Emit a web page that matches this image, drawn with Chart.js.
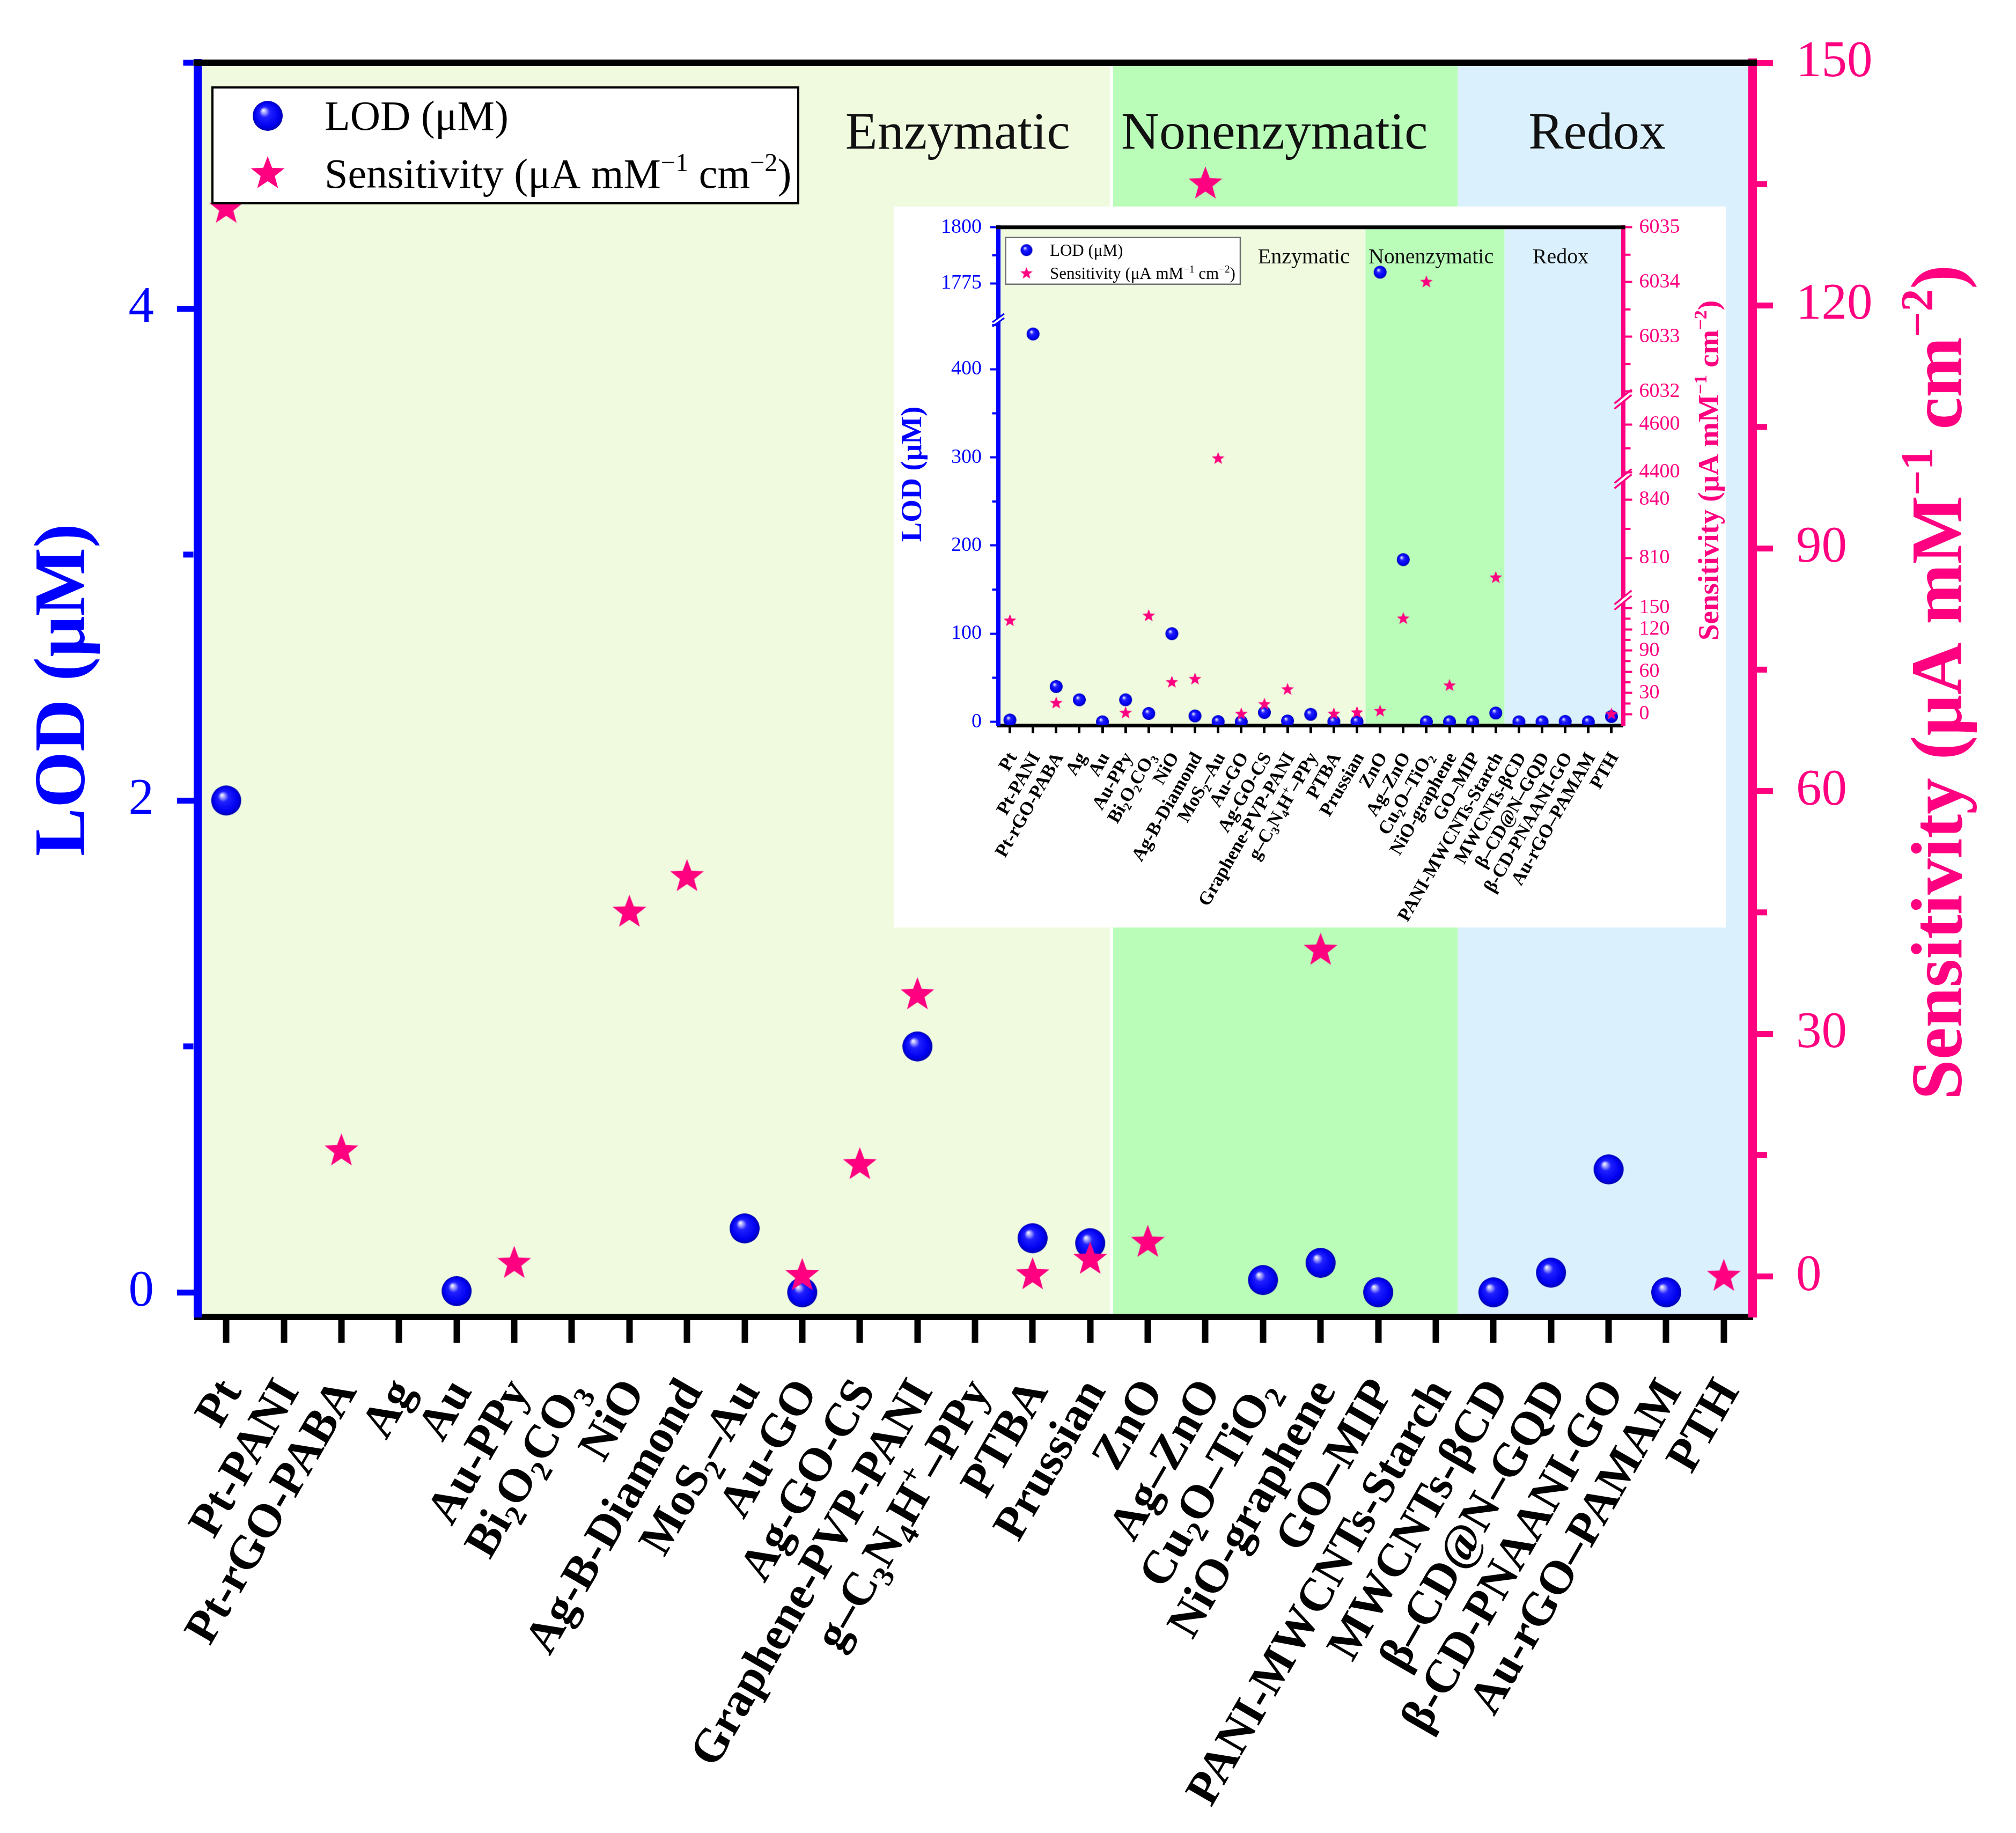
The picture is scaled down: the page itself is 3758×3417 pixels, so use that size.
<!DOCTYPE html>
<html>
<head>
<meta charset="utf-8">
<script src="https://cdn.jsdelivr.net/npm/chart.js@4.4.1/dist/chart.umd.min.js"></script>
<style>
  html, body { margin: 0; padding: 0; background: #fff; overflow: hidden; }
  #wrap { position: relative; width: 3758px; height: 3417px; }
  #main { position: absolute; left: 0; top: 0; }
  #inset { position: absolute; left: 1666px; top: 385px; }
</style>
</head>
<body>
<div id="wrap">
  <canvas id="main" width="3758" height="3417"></canvas>
  <canvas id="inset" width="1551" height="1344"></canvas>
</div>
<script>
// ---- data ----
// _{..} = subscript, ^{..} = superscript
const materials = ['Pt', 'Pt-PANI', 'Pt-rGO-PABA', 'Ag', 'Au', 'Au-PPy', 'Bi_{2}O_{2}CO_{3}', 'NiO',
  'Ag-B-Diamond', 'MoS_{2}–Au', 'Au-GO', 'Ag-GO-CS', 'Graphene-PVP-PANI', 'g–C_{3}N_{4}H^{+}–PPy',
  'PTBA', 'Prussian', 'ZnO', 'Ag–ZnO', 'Cu_{2}O–TiO_{2}', 'NiO-graphene', 'GO–MIP',
  'PANI-MWCNTs-Starch', 'MWCNTs-βCD', 'β–CD@N–GQD', 'β-CD-PNAANI-GO', 'Au-rGO–PAMAM', 'PTH'];
const lodValues = [2.0, 440, 40, 25, 0.005, 25, 9.5, 100, 6.7, 0.26, 0, 10.6, 1.0, 8.5,
  0.22, 0.2, 1780, 184, 0.05, 0.12, 0, 10, 0, 0.08, 0.5, 0, 6];
const sensValues = [132, null, 15.5, null, null, 1.6, 139, 45, 49.4, 4457, 0.1, 13.8, 34.8, null,
  0.2, 2.1, 4.2, 135, 6034, 40.3, null, 800, null, null, null, null, 0];
const seriesNames = ['LOD (μM)', 'Sensitivity (μA mM^{−1} cm^{−2})'];

const regionNames = ['Enzymatic', 'Nonenzymatic', 'Redox'];
const regionStart = [-0.5, 15.37, 21.38];
const regionEnd = [15.37, 21.38, 26.5];
const regionLabelAt = [12.7, 18.2, 23.8];

// main axes
const lodTicks = [0, 2, 4];
const lodMinor = [1, 3, 5];
const sensTicks = [0, 30, 60, 90, 120, 150];
const sensMinor = [15, 45, 75, 105, 135];

// inset axes (broken): [from, to, fracFrom, fracTo]
const insetLodTicks = [0, 100, 200, 300, 400, 1775, 1800];
const insetLodMinor = [50, 150, 250, 350, 450, 1787.5];
const insetSensTicks = [0, 30, 60, 90, 120, 150, 810, 840, 4400, 4600, 6032, 6033, 6034, 6035];
const insetSensMinor = [15, 45, 75, 105, 135, 825, 4500, 6032.5, 6033.5, 6034.5];
const insetLodSegments = [[-3.9, 455.7, 0, 0.8136], [1758.6, 1800, 0.8136, 1]];
const insetSensSegments = [[-15.75, 161.2, 0, 0.2513], [788.5, 850.7, 0.2513, 0.4952],
  [4372.7, 4705.8, 0.4952, 0.655], [6031.86, 6035, 0.655, 1]];

// ---- styling ----
const FONT = "'Liberation Serif', 'Times New Roman', serif";
const BLUE = '#0000ff';
const PINK = '#ff0080';
const regionColors = ['#effadf', '#b9fdb8', '#daf0fd'];

function toBroken(v, segs) {
  if (v == null) return null;
  for (const [a, b, fa, fb] of segs) {
    if (v >= a && v <= b) return fa + (v - a) / (b - a) * (fb - fa);
  }
  return null;
}

function parseRich(str) {
  const parts = [];
  const re = /([_^])\{([^}]*)\}/g;
  let last = 0, m;
  while ((m = re.exec(str))) {
    if (m.index > last) parts.push({ t: str.slice(last, m.index), k: 0 });
    parts.push({ t: m[2], k: m[1] === '_' ? -1 : 1 });
    last = re.lastIndex;
  }
  if (last < str.length) parts.push({ t: str.slice(last), k: 0 });
  return parts;
}
const plain = str => str.replace(/[_^]\{([^}]*)\}/g, '$1');

// text with sub/superscripts, y = baseline
function drawRich(ctx, str, x, y, size, weight, color, align) {
  const parts = parseRich(str);
  const fontFor = k => `${weight} ${k ? size * 0.62 : size}px ${FONT}`;
  let w = 0;
  parts.forEach(p => { ctx.font = fontFor(p.k); p.w = ctx.measureText(p.t).width; w += p.w; });
  let cx = align === 'right' ? x - w : align === 'center' ? x - w / 2 : x;
  ctx.fillStyle = color;
  ctx.textAlign = 'left';
  ctx.textBaseline = 'alphabetic';
  parts.forEach(p => {
    ctx.font = fontFor(p.k);
    ctx.fillText(p.t, cx, y + (p.k < 0 ? 0.2 * size : p.k > 0 ? -0.4 * size : 0));
    cx += p.w;
  });
}

function sphereImg(r) {
  const c = document.createElement('canvas');
  const d = Math.ceil(r * 2) + 2;
  c.width = c.height = d;
  const g = c.getContext('2d');
  const m = d / 2;
  const grd = g.createRadialGradient(m - 0.3 * r, m - 0.38 * r, 0, m, m, r);
  grd.addColorStop(0, '#ffffff');
  grd.addColorStop(0.12, '#b8b8ff');
  grd.addColorStop(0.35, '#2020ff');
  grd.addColorStop(0.8, '#0000f0');
  grd.addColorStop(1, '#0000b0');
  g.fillStyle = grd;
  g.beginPath();
  g.arc(m, m, r, 0, Math.PI * 2);
  g.fill();
  return c;
}

function starImg(R) {
  const c = document.createElement('canvas');
  const d = Math.ceil(R * 2) + 2;
  c.width = c.height = d;
  const g = c.getContext('2d');
  const m = d / 2;
  g.fillStyle = PINK;
  g.beginPath();
  for (let i = 0; i < 10; i++) {
    const rr = i % 2 ? R * 0.42 : R;
    const ang = -Math.PI / 2 + i * Math.PI / 5;
    const px = m + rr * Math.cos(ang), py = m + rr * Math.sin(ang);
    i ? g.lineTo(px, py) : g.moveTo(px, py);
  }
  g.closePath();
  g.fill();
  return c;
}

function breakMark(ctx, x, y, b, color, bw) {
  ctx.save();
  ctx.beginPath();
  ctx.rect(x - bw / 2 - 1, y - b.dy - b.g - 4, bw + 2, 2 * (b.dy + b.g) + 8);
  ctx.clip();
  ctx.fillStyle = '#fff';
  ctx.beginPath();
  ctx.moveTo(x - b.dx, y + b.dy - b.g);
  ctx.lineTo(x + b.dx, y - b.dy - b.g);
  ctx.lineTo(x + b.dx, y - b.dy + b.g);
  ctx.lineTo(x - b.dx, y + b.dy + b.g);
  ctx.closePath();
  ctx.fill();
  ctx.restore();
  ctx.save();
  ctx.strokeStyle = color;
  ctx.lineWidth = b.lw;
  [-b.g, b.g].forEach(o => {
    ctx.beginPath();
    ctx.moveTo(x - b.dx, y + b.dy + o);
    ctx.lineTo(x + b.dx, y - b.dy + o);
    ctx.stroke();
  });
  ctx.restore();
}

function makeDecor(s) {
  return {
    id: 'decor',
    beforeDraw(chart) {
      const { ctx, chartArea: a } = chart;
      const xs = chart.scales.x;
      ctx.save();
      ctx.fillStyle = '#fff';
      ctx.fillRect(0, 0, chart.width, chart.height);
      regionNames.forEach((n, i) => {
        const x0 = Math.max(a.left, xs.getPixelForValue(regionStart[i]));
        const x1 = Math.min(a.right, xs.getPixelForValue(regionEnd[i]));
        ctx.fillStyle = regionColors[i];
        ctx.fillRect(x0, a.top, x1 - x0, a.bottom - a.top);
      });
      if (s.sepW) {
        const xb = xs.getPixelForValue(regionEnd[0]);
        ctx.fillStyle = '#fff';
        ctx.fillRect(xb - s.sepW / 2, a.top, s.sepW, a.bottom - a.top);
      }
      ctx.restore();
    },
    beforeDatasetsDraw(chart) {
      const { ctx, chartArea: a } = chart;
      const xs = chart.scales.x;
      ctx.save();
      ctx.font = `${s.regionFont}px ${FONT}`;
      ctx.fillStyle = '#111';
      ctx.textAlign = 'center';
      ctx.textBaseline = 'alphabetic';
      regionNames.forEach((n, i) => {
        ctx.fillText(n, xs.getPixelForValue(regionLabelAt[i]), a.top + s.regionDy + 0.33 * s.regionFont);
      });
      ctx.restore();
    },
    afterDraw(chart) {
      const { ctx, chartArea: a } = chart;
      const { x: xs, yL, yR } = chart.scales;
      ctx.save();
      // top frame
      ctx.strokeStyle = '#000';
      ctx.lineWidth = s.borderT;
      ctx.beginPath();
      ctx.moveTo(a.left - s.borderL / 2, a.top);
      ctx.lineTo(a.right + s.borderR / 2, a.top);
      ctx.stroke();
      // minor ticks
      ctx.lineWidth = s.tickWY;
      ctx.strokeStyle = BLUE;
      s.lodMinor.forEach(v => {
        const p = yL.getPixelForValue(s.trL(v));
        const x0 = a.left - s.borderL / 2;
        ctx.beginPath(); ctx.moveTo(x0, p); ctx.lineTo(x0 - s.minorLenL, p); ctx.stroke();
      });
      ctx.strokeStyle = PINK;
      s.sensMinor.forEach(v => {
        const p = yR.getPixelForValue(s.trR(v));
        const x0 = a.right + s.borderR / 2;
        ctx.beginPath(); ctx.moveTo(x0, p); ctx.lineTo(x0 + s.minorLenR, p); ctx.stroke();
      });
      // axis breaks
      s.breaksL.forEach(f => breakMark(ctx, a.left, yL.getPixelForValue(f), s.breakL, BLUE, s.borderL));
      s.breaksR.forEach(f => breakMark(ctx, a.right, yR.getPixelForValue(f), s.breakR, PINK, s.borderR));
      // legend
      const L = s.legend;
      const lx = a.left + L.dx, ly = a.top + L.dy;
      ctx.fillStyle = '#fff';
      ctx.fillRect(lx, ly, L.w, L.h);
      ctx.strokeStyle = L.borderColor;
      ctx.lineWidth = L.border;
      ctx.strokeRect(lx, ly, L.w, L.h);
      const lb = sphereImg(L.ballR), ls = starImg(L.starR);
      ctx.drawImage(lb, lx + L.mx - lb.width / 2, ly + L.row1 - lb.height / 2);
      ctx.drawImage(ls, lx + L.mx - ls.width / 2, ly + L.row2 - ls.height / 2);
      drawRich(ctx, seriesNames[0], lx + L.tx, ly + L.row1 + 0.33 * L.font, L.font, 'normal', '#000', 'left');
      drawRich(ctx, seriesNames[1], lx + L.tx, ly + L.row2 + 0.33 * L.font, L.font, 'normal', '#000', 'left');
      // axis titles
      ctx.save();
      ctx.translate(s.titleL.x, s.titleL.y);
      ctx.rotate(-Math.PI / 2);
      drawRich(ctx, seriesNames[0], 0, 0, s.titleFont, 'bold', BLUE, 'center');
      ctx.restore();
      ctx.save();
      ctx.translate(s.titleR.x, s.titleR.y);
      ctx.rotate(-Math.PI / 2);
      drawRich(ctx, seriesNames[1], 0, 0, s.titleFont, 'bold', PINK, 'center');
      ctx.restore();
      // category labels
      materials.forEach((m, i) => {
        ctx.save();
        ctx.translate(xs.getPixelForValue(i) + s.xLabelDx, a.bottom + s.xLabelDy);
        ctx.rotate(-Math.PI / 3);
        drawRich(ctx, m, 0, 0.33 * s.xLabelFont, s.xLabelFont, 'bold', '#000', 'right');
        ctx.restore();
      });
      ctx.restore();
    }
  };
}

function buildChart(canvas, s) {
  const yAxis = (pos, min, max, ticks, tr, color, bw, tlen, pad) => ({
    type: 'linear', position: pos, min: min, max: max,
    afterBuildTicks: sc => { sc.ticks = ticks.map(v => ({ value: tr(v) })); },
    afterFit: sc => { sc.width = pos === 'left' ? s.leftW : s.rightW; },
    ticks: {
      autoSkip: false, padding: pad, color: color,
      font: { family: FONT, size: s.tickFont },
      callback: (v, i) => String(ticks[i])
    },
    grid: { display: true, drawOnChartArea: false, tickLength: tlen, tickWidth: s.tickWY, tickColor: color },
    border: { display: true, color: color, width: bw }
  });
  return new Chart(canvas, {
    type: 'line',
    data: {
      labels: materials.map(plain),
      datasets: [
        {
          label: plain(seriesNames[0]), data: s.lod, yAxisID: 'yL', showLine: false,
          pointStyle: sphereImg(s.ballR), pointRadius: s.ballR, pointHoverRadius: s.ballR, order: 2
        },
        {
          label: plain(seriesNames[1]), data: s.sens, yAxisID: 'yR', showLine: false,
          pointStyle: starImg(s.starR), pointRadius: s.starR, pointHoverRadius: s.starR, order: 1
        }
      ]
    },
    options: {
      responsive: false,
      animation: false,
      events: [],
      layout: { padding: { top: s.top, left: 0, right: 0, bottom: 0 } },
      plugins: { legend: { display: false }, tooltip: { enabled: false } },
      scales: {
        x: {
          type: 'category', offset: true,
          afterFit: sc => { sc.height = s.xH; },
          ticks: { display: false, autoSkip: false },
          grid: { display: true, drawOnChartArea: false, offset: false, tickLength: s.tickLenX, tickWidth: s.tickWX, tickColor: '#000' },
          border: { display: true, color: '#000', width: s.borderB }
        },
        yL: yAxis('left', s.lodMin, s.lodMax, s.lodTicks, s.trL, BLUE, s.borderL, s.tickLenL, s.padL),
        yR: yAxis('right', s.sensMin, s.sensMax, s.sensTicks, s.trR, PINK, s.borderR, s.tickLenR, s.padR)
      }
    },
    plugins: [makeDecor(s)]
  });
}

const ident = v => v;

buildChart(document.getElementById('main'), {
  lod: lodValues, sens: sensValues,
  lodMin: -0.1, lodMax: 5, sensMin: -5, sensMax: 150,
  lodTicks: lodTicks, lodMinor: lodMinor, sensTicks: sensTicks, sensMinor: sensMinor,
  trL: ident, trR: ident,
  top: 117, leftW: 368, rightW: 491, xH: 962,
  tickFont: 95, padL: 43, padR: 43,
  tickLenL: 38, tickLenR: 38, minorLenL: 19, minorLenR: 19, tickWY: 11,
  tickLenX: 48, tickWX: 12,
  borderL: 15, borderR: 16, borderB: 12, borderT: 12,
  xLabelFont: 88, xLabelDy: 123, xLabelDx: 5,
  ballR: 28, starR: 33,
  regionFont: 98, regionDy: 128, sepW: 6,
  legend: { dx: 28, dy: 46, w: 1092, h: 216, row1: 53, row2: 161, mx: 103, tx: 209, font: 78, border: 4, borderColor: '#000', ballR: 28, starR: 33 },
  titleFont: 135, titleL: { x: 157, y: 1286 }, titleR: { x: 3656, y: 1272 },
  breaksL: [], breaksR: []
});

const trInL = v => toBroken(v, insetLodSegments);
const trInR = v => toBroken(v, insetSensSegments);
buildChart(document.getElementById('inset'), {
  lod: lodValues.map(trInL), sens: sensValues.map(trInR),
  lodMin: 0, lodMax: 1, sensMin: 0, sensMax: 1,
  lodTicks: insetLodTicks, lodMinor: insetLodMinor, sensTicks: insetSensTicks, sensMinor: insetSensMinor,
  trL: trInL, trR: trInR,
  top: 28, leftW: 195, rightW: 191.5, xH: 377,
  tickFont: 38, padL: 16, padR: 13,
  tickLenL: 15, tickLenR: 17, minorLenL: 7.5, minorLenR: 10, tickWY: 4,
  tickLenX: 15, tickWX: 5,
  borderL: 8, borderR: 8, borderB: 7, borderT: 7,
  xLabelFont: 35, xLabelDy: 53, xLabelDx: 4,
  ballR: 12, starR: 12.5,
  regionFont: 40, regionDy: 54, sepW: 0,
  legend: { dx: 13.5, dy: 19, w: 437.5, h: 87, row1: 23.5, row2: 67, mx: 39, tx: 82.5, font: 31, border: 2.5, borderColor: '#707070', ballR: 11, starR: 12 },
  titleFont: 55, titleL: { x: 51, y: 499 }, titleR: { x: 1537, y: 492 },
  breaksL: [0.8136], breaksR: [0.2513, 0.4952, 0.655],
  breakL: { dx: 11, dy: 8, g: 4, lw: 3 }, breakR: { dx: 16, dy: 13, g: 5, lw: 3.5 }
});
</script>
</body>
</html>
